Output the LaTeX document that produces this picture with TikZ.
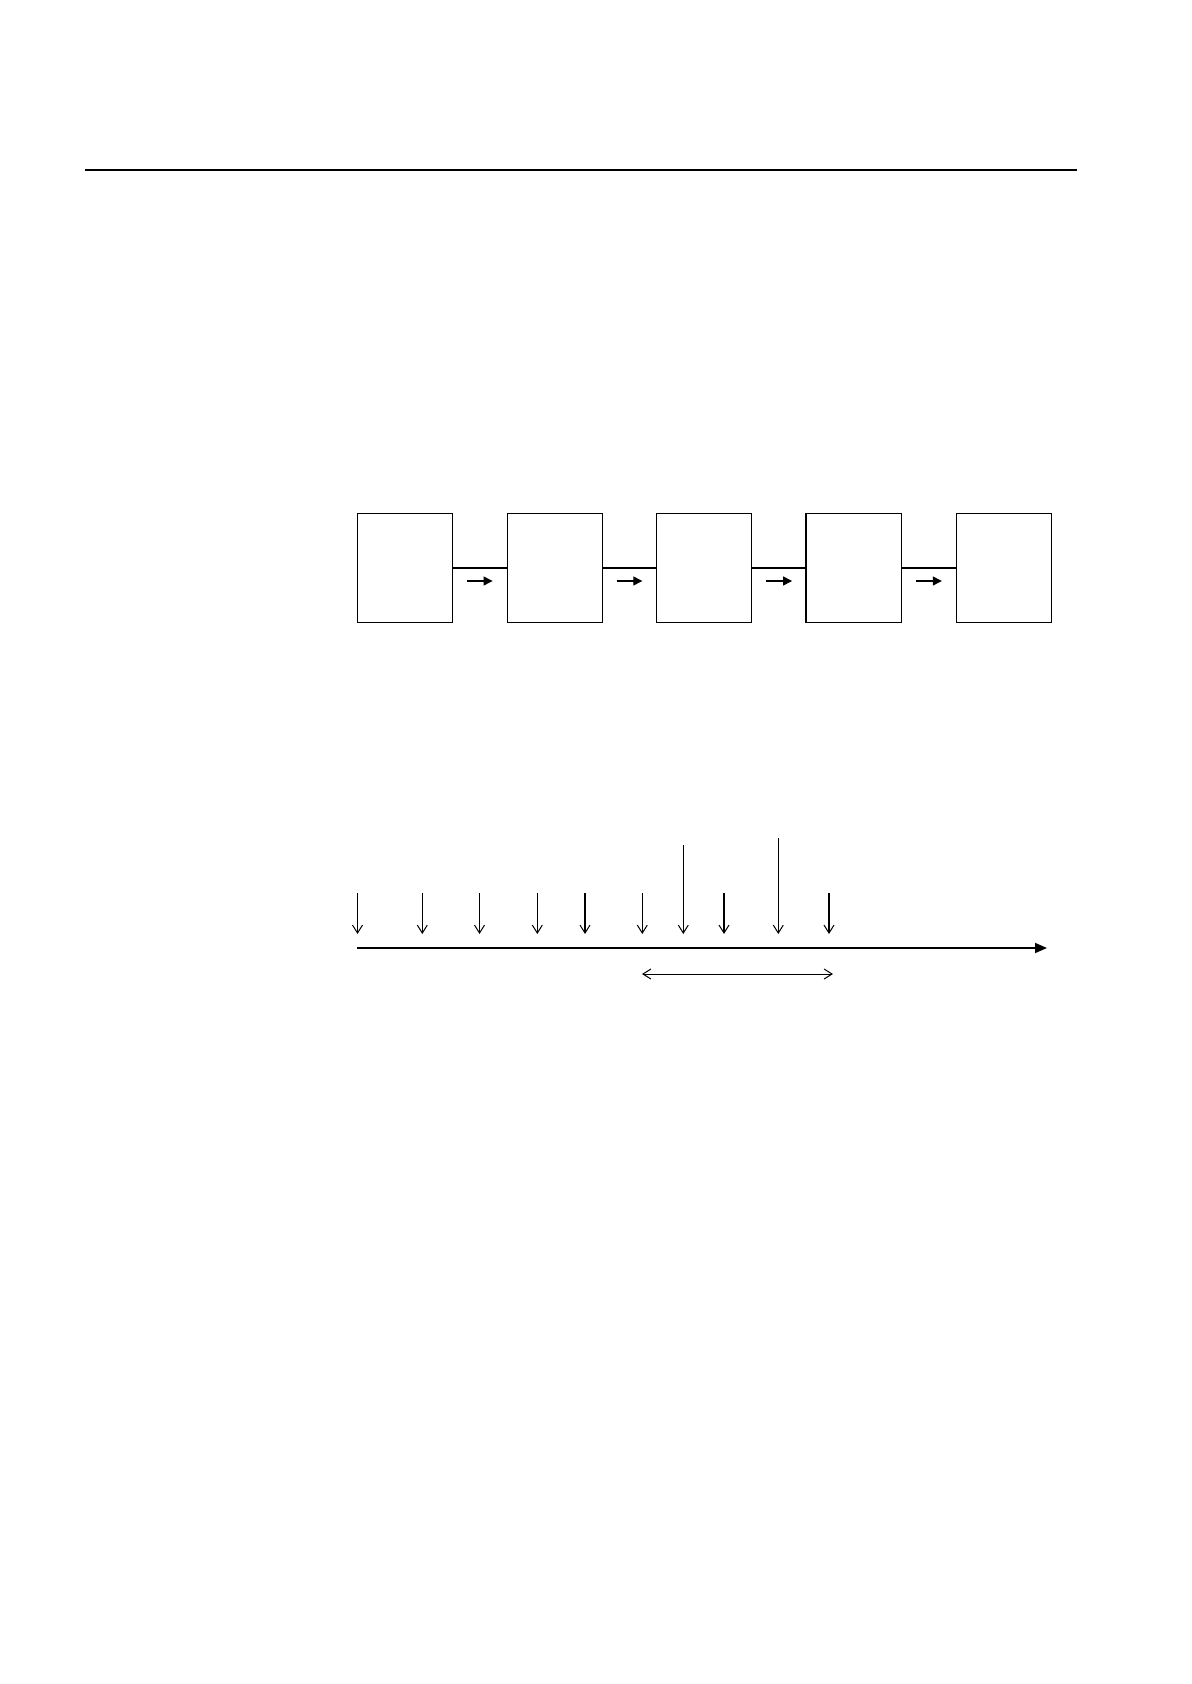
\documentclass[tikz,border=0pt]{standalone}
\usetikzlibrary{arrows.meta,calc}
\begin{document}
\begin{tikzpicture}[x=0.5pt,y=-0.5pt,
		stage/.style={draw,line width=0.5pt,minimum width=47.5pt,minimum height=54.5pt,inner sep=0pt},
		link/.style={line width=1pt},
		flow/.style={line width=0.6pt,-{Triangle[length=4.5pt,width=4.5pt]}},
		tick/.style={line width=0.5pt,-{Straight Barb[length=4pt,width=5pt,line width=0.5pt]}},
		heavytick/.style={tick,line width=1pt},
		span/.style={line width=0.5pt,{Straight Barb[length=4pt,width=5pt]}-{Straight Barb[length=4pt,width=5pt]}}]
			\useasboundingbox (0,0) rectangle (1191,1684);
			% rule at the head of the page
			\draw[line width=1pt] (85,170) -- (1077,170);
			% chain of stages
			\foreach \i in {1,...,5}
				\node[stage] (b\i) at ({404.8+149.75*(\i-1)},568) {};
			\draw[line width=1pt] (b4.north west) -- (b4.south west);
			\foreach \i/\j in {1/2,2/3,3/4,4/5} {
				\draw[link] (b\i.east) -- (b\j.west);
				\draw[flow] ($(b\i.east)+(14,13)$) -- ($(b\j.west)+(-14,13)$);
			}
			% time axis
			\coordinate (t0) at (357,948);
			\coordinate (t1) at (1047,948);
			\draw[line width=0.8pt,-{Triangle[length=6pt,width=5pt]}] (t0) -- (t1);
			\foreach \x/\y/\s [count=\k] in {357.5/893/tick,422.3/893/tick,479.5/893/tick,537.3/893/tick,585/893/heavytick,642.3/893/tick,683.3/845/tick,724/893/heavytick,778.3/838/tick,829/893/heavytick} {
				\coordinate (p\k) at (\x,\y);
				\coordinate (q\k) at (\x,934);
				\draw[\s] (p\k) -- (q\k);
			}
			\coordinate (w0) at (642,974);
			\coordinate (w1) at (833,974);
			\draw[span] (w0) -- (w1);
		\end{tikzpicture}
\end{document}
